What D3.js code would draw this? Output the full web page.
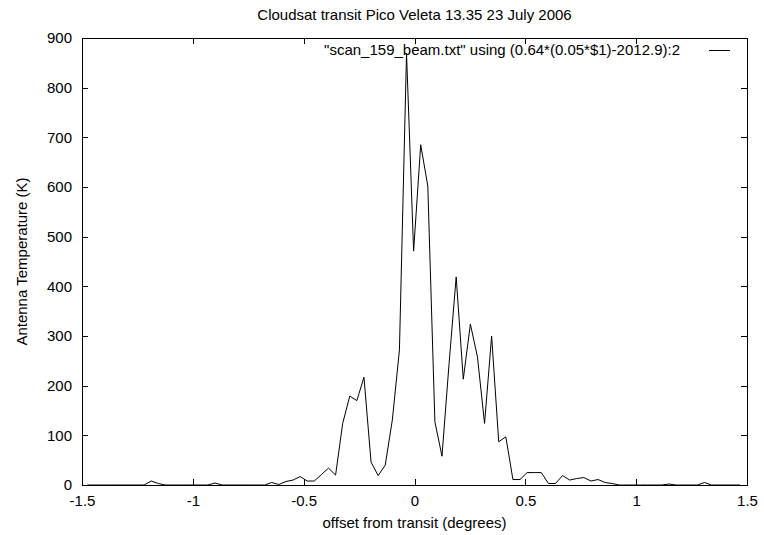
<!DOCTYPE html>
<html>
<head>
<meta charset="utf-8">
<script src="https://cdn.jsdelivr.net/npm/d3@7/dist/d3.min.js"></script>
<style>
  body { margin: 0; background: #fff; }
  text { font-family: "Liberation Sans", Arial, Helvetica, sans-serif; fill: #000; }
</style>
</head>
<body>
<div id="chart-area"></div>
<script>
// offset from transit (degrees), as plotted by (0.64*(0.05*$1)-2012.9)
var offsets = [
  -1.476, -1.444, -1.412, -1.380, -1.348, -1.316, -1.284, -1.252, -1.220, -1.188,
  -1.156, -1.124, -1.092, -1.060, -1.028, -0.996, -0.964, -0.932, -0.900, -0.868,
  -0.836, -0.804, -0.772, -0.740, -0.708, -0.676, -0.644, -0.612, -0.580, -0.548,
  -0.516, -0.484, -0.452, -0.420, -0.388, -0.356, -0.324, -0.292, -0.260, -0.228,
  -0.196, -0.164, -0.132, -0.100, -0.068, -0.036, -0.004, 0.028, 0.060, 0.092,
  0.124, 0.156, 0.188, 0.220, 0.252, 0.284, 0.316, 0.348, 0.380, 0.412,
  0.444, 0.476, 0.508, 0.540, 0.572, 0.604, 0.636, 0.668, 0.700, 0.732,
  0.764, 0.796, 0.828, 0.860, 0.892, 0.924, 0.956, 0.988, 1.020, 1.052,
  1.084, 1.116, 1.148, 1.180, 1.212, 1.244, 1.276, 1.308, 1.340, 1.372,
  1.404, 1.436, 1.468
]

// antenna temperature (K)
var temps = [
  0, 0, 0, 0, 0, 0, 0, 0, 0, 8,
  3, 0, 0, 0, 0, 0, 0, 0, 4, 0,
  0, 0, 0, 0, 0, 0, 5, 1, 7, 10,
  17, 8, 8, 21, 34, 20, 124, 179, 170, 217,
  46, 19, 40, 131, 272, 869, 471, 685, 602, 127,
  58, 245, 419, 213, 324, 258, 124, 300, 87, 97,
  11, 11, 25, 25, 25, 3, 3, 19, 10, 13,
  15, 8, 11, 5, 3, 0, 0, 0, 0, 0,
  0, 0, 2, 0, 0, 0, 0, 5, 0, 0,
  0, 0, 0
]

var xTicks = [-1.5, -1, -0.5, 0, 0.5, 1, 1.5]
var yTicks = [0, 100, 200, 300, 400, 500, 600, 700, 800, 900]

var titleText = "Cloudsat transit Pico Veleta 13.35 23 July 2006"
var keyText = "\"scan_159_beam.txt\" using (0.64*(0.05*$1)-2012.9):2"
var xLabel = "offset from transit (degrees)"
var yLabel = "Antenna Temperature (K)"

var data = offsets.map((o, i) => ({x: o, y: temps[i]}))

var cw = 764
var ch = 535
var m = {l: 82, t: 38, r: 17, b: 50}
var w = cw - m.l - m.r
var h = ch - m.t - m.b
var fs = "15px"

var svg = d3.select("#chart-area").append("svg")
    .attr("width", cw)
    .attr("height", ch)

svg.append("rect")
    .attr("width", cw)
    .attr("height", ch)
    .attr("fill", "#fff")

var g = svg.append("g")
    .attr("transform", "translate(" + m.l + ", " + m.t + ")")

var x = d3.scaleLinear()
    .domain([-1.5, 1.5])
    .range([0, w])

var y = d3.scaleLinear()
    .domain([0, 900])
    .range([h, 0])

var fmt = d => String(d)

// ticks point inward, mirrored on top and right
var bottomAxis = d3.axisBottom(x).tickValues(xTicks).tickFormat(fmt)
    .tickSizeInner(-6).tickSizeOuter(0).tickPadding(10)
var leftAxis = d3.axisLeft(y).tickValues(yTicks).tickFormat(fmt)
    .tickSizeInner(-6).tickSizeOuter(0).tickPadding(10)
var topAxis = d3.axisTop(x).tickValues(xTicks).tickFormat("")
    .tickSizeInner(-6).tickSizeOuter(0)
var rightAxis = d3.axisRight(y).tickValues(yTicks).tickFormat("")
    .tickSizeInner(-6).tickSizeOuter(0)

function styleAxis(sel) {
    sel.select(".domain").remove()
    sel.selectAll("line").attr("stroke", "#000").attr("shape-rendering", "crispEdges")
    sel.selectAll("text").attr("font-size", fs).attr("fill", "#000")
        .attr("font-family", "Liberation Sans, Arial, sans-serif")
}

g.append("g")
    .attr("class", "bottom axis")
    .attr("transform", "translate(0, " + h + ")")
    .call(bottomAxis)
    .call(styleAxis)

g.append("g")
    .attr("class", "left axis")
    .call(leftAxis)
    .call(styleAxis)

g.append("g")
    .attr("class", "top axis")
    .call(topAxis)
    .call(styleAxis)

g.append("g")
    .attr("class", "right axis")
    .attr("transform", "translate(" + w + ", 0)")
    .call(rightAxis)
    .call(styleAxis)

// frame
g.append("rect")
    .attr("x", 0.5)
    .attr("y", 0.5)
    .attr("width", w)
    .attr("height", h)
    .attr("fill", "none")
    .attr("stroke", "#000")
    .attr("shape-rendering", "crispEdges")

var line = d3.line()
    .x(d => x(d.x))
    .y(d => y(d.y))

g.append("path")
    .datum(data)
    .attr("d", line)
    .attr("fill", "none")
    .attr("stroke", "#000")
    .attr("stroke-width", 1)

// key
g.append("text")
    .attr("x", 598)
    .attr("y", 12)
    .attr("dy", "0.35em")
    .attr("font-size", fs)
    .attr("text-anchor", "end")
    .text(keyText)

g.append("line")
    .attr("x1", 627)
    .attr("x2", 648)
    .attr("y1", 12.5)
    .attr("y2", 12.5)
    .attr("stroke", "#000")

svg.append("text")
    .attr("x", m.l + w / 2)
    .attr("y", 20)
    .attr("font-size", fs)
    .attr("text-anchor", "middle")
    .text(titleText)

svg.append("text")
    .attr("x", m.l + w / 2)
    .attr("y", 528)
    .attr("font-size", fs)
    .attr("text-anchor", "middle")
    .text(xLabel)

svg.append("text")
    .attr("x", -(m.t + h / 2))
    .attr("y", 27)
    .attr("font-size", fs)
    .attr("text-anchor", "middle")
    .attr("transform", "rotate(-90)")
    .text(yLabel)
</script>
</body>
</html>
